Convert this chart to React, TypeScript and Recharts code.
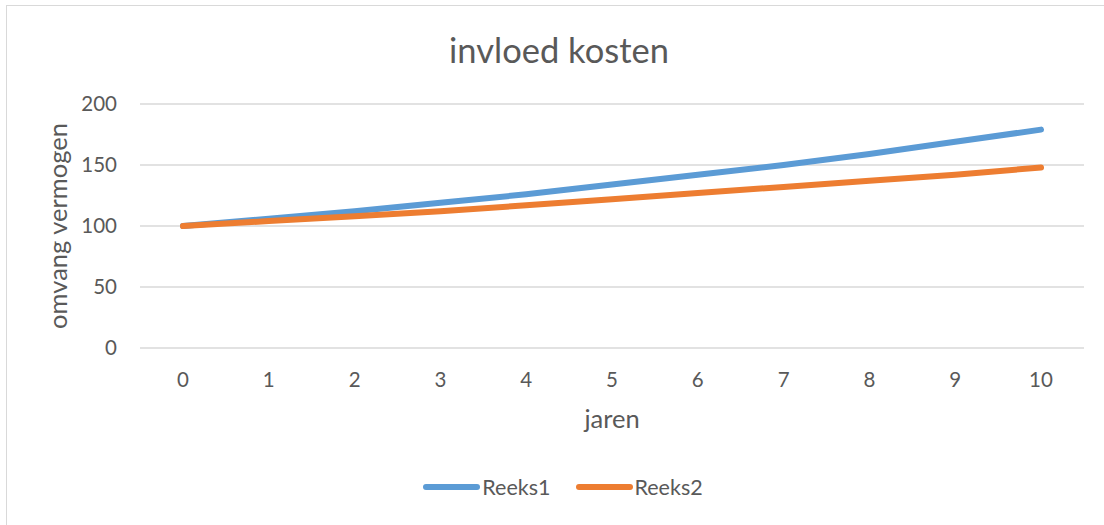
import React from "react";
import { LineChart, Line, XAxis, YAxis, CartesianGrid, Legend } from "recharts";

const jaren = ["0", "1", "2", "3", "4", "5", "6", "7", "8", "9", "10"];
const reeks1 = [100, 106, 112, 119, 126, 134, 142, 150, 159, 169, 179];
const reeks2 = [100, 104, 108, 112, 117, 122, 127, 132, 137, 142, 148];
const yTicks = [0, 50, 100, 150, 200];

const data = jaren.map((j, i) => ({ jaar: j, Reeks1: reeks1[i], Reeks2: reeks2[i] }));

const TEXT = "#595959";
const GRID = "#d9d9d9";
const FONT = "Lato, 'Open Sans', sans-serif";

function LegendContent({ payload }: any) {
  return (
    <div
      style={{
        width: 1104,
        height: 30,
        display: "flex",
        justifyContent: "center",
        alignItems: "center",
        paddingLeft: 22,
        paddingBottom: 3,
        boxSizing: "border-box",
        fontFamily: FONT,
        fontSize: 21.5,
        color: TEXT,
      }}
    >
      {(payload || []).map((p: any, i: number) => (
        <div key={p.value} style={{ display: "flex", alignItems: "center", marginLeft: i ? 25 : 0 }}>
          <svg width={57} height={10} style={{ marginRight: 2 }}>
            <line x1={3} y1={5} x2={54} y2={5} stroke={p.color} strokeWidth={6} strokeLinecap="round" />
          </svg>
          <span>{p.value}</span>
        </div>
      ))}
    </div>
  );
}

export default function App() {
  return (
    <div style={{ position: "absolute", left: 0, top: 0, width: 1104, height: 525, overflow: "hidden", background: "#fff" }}>
      <div
        style={{
          position: "absolute",
          left: 6,
          top: 5,
          width: 1200,
          height: 600,
          border: `1.5px solid ${GRID}`,
        }}
      />
      <div
        style={{
          position: "absolute",
          left: 6,
          top: 34,
          width: 1106,
          textAlign: "center",
          fontFamily: FONT,
          fontSize: 34.5,
          lineHeight: "32px",
          color: TEXT,
        }}
      >
        invloed kosten
      </div>
      <div style={{ position: "absolute", left: 0, top: 0 }}>
        <LineChart
          width={1104}
          height={525}
          data={data}
          margin={{ top: 104, right: 20, bottom: 22, left: 0 }}
          style={{ fontFamily: FONT }}
        >
          <CartesianGrid vertical={false} stroke={GRID} strokeWidth={1.5} />
          <XAxis
            dataKey="jaar"
            height={125}
            padding={{ left: 43, right: 43 }}
            axisLine={false}
            tickLine={false}
            tickSize={0}
            tickMargin={24}
            tick={{ fill: TEXT, fontSize: 20.5, fontFamily: FONT }}
            label={{ value: "jaren", position: "insideTop", offset: 62, fill: TEXT, fontSize: 25.5, fontFamily: FONT }}
          />
          <YAxis
            width={140}
            domain={[0, 200]}
            ticks={yTicks}
            axisLine={false}
            tickLine={false}
            tickSize={0}
            tickMargin={23}
            tick={{ fill: TEXT, fontSize: 20.5, fontFamily: FONT }}
            label={{
              value: "omvang vermogen",
              angle: -90,
              position: "insideLeft",
              offset: 58,
              fill: TEXT,
              fontSize: 25.5,
              fontFamily: FONT,
              style: { textAnchor: "middle" },
            }}
          />
          <Legend verticalAlign="bottom" content={<LegendContent />} />
          <Line
            type="linear"
            dataKey="Reeks1"
            stroke="#5b9bd5"
            strokeWidth={6}
            strokeLinecap="round"
            dot={false}
            activeDot={false}
            isAnimationActive={false}
          />
          <Line
            type="linear"
            dataKey="Reeks2"
            stroke="#ed7d31"
            strokeWidth={6}
            strokeLinecap="round"
            dot={false}
            activeDot={false}
            isAnimationActive={false}
          />
        </LineChart>
      </div>
    </div>
  );
}
